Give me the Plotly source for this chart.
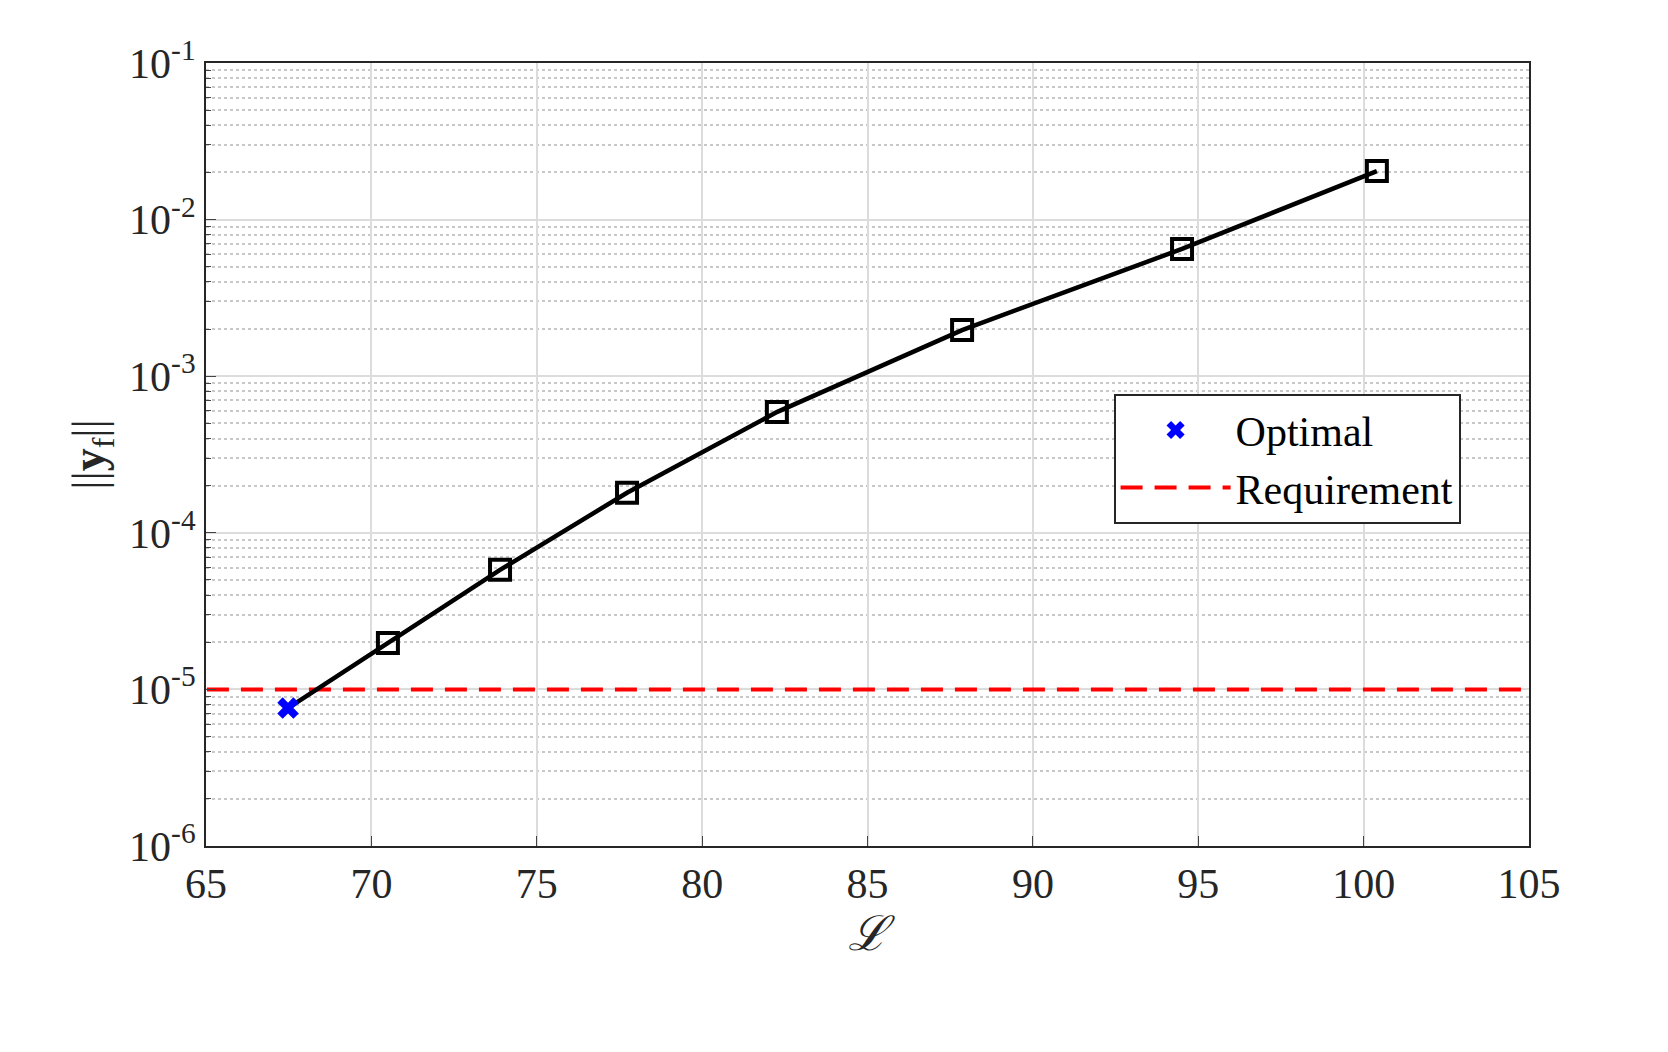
import plotly.graph_objects as go

L = [67.48, 70.50, 73.89, 77.73, 82.26, 87.86, 94.51, 100.40]
yf = [7.6e-6, 1.98e-5, 5.8e-5, 1.8e-4, 5.9e-4, 1.97e-3, 6.5e-3, 2.04e-2]
requirement = 1e-5
x_ticks = [65, 70, 75, 80, 85, 90, 95, 100, 105]
y_exps = [-6, -5, -4, -3, -2, -1]

font = "Liberation Serif"
fig = go.Figure()

fig.add_trace(go.Scatter(x=[64, 106], y=[requirement, requirement], mode="lines",
                         line=dict(color="#ff0000", width=4, dash="22px,12px"),
                         name="Requirement", showlegend=True, legendrank=2))
fig.add_trace(go.Scatter(x=L, y=yf, mode="lines", line=dict(color="black", width=4.5),
                         showlegend=False))
fig.add_trace(go.Scatter(x=L[1:], y=yf[1:], mode="markers",
                         marker=dict(symbol="square-open", size=20, color="black",
                                     line=dict(width=4, color="black")),
                         showlegend=False))
fig.add_trace(go.Scatter(x=L[:1], y=yf[:1], mode="markers",
                         marker=dict(symbol="x", size=19, color="#0000ff",
                                     line=dict(width=0)),
                         name="Optimal", legendrank=1))

fig.update_layout(
    width=1668, height=1052, paper_bgcolor="white", plot_bgcolor="white",
    margin=dict(l=198, r=147, t=55, b=214),
    font=dict(family=font, size=42, color="#262626"),
    legend=dict(x=0.686, y=0.577, xanchor="left", yanchor="top",
                bgcolor="white", bordercolor="#262626", borderwidth=2,
                font=dict(size=42, color="black"), itemwidth=110),
)
fig.update_xaxes(range=[65, 105], tickvals=x_ticks, showline=True, mirror=True,
                 linecolor="#262626", linewidth=2, ticks="inside", ticklen=10,
                 gridcolor="#dcdcdc", gridwidth=2, zeroline=False,
                 title=dict(text="<i>ℒ</i>", font=dict(size=48), standoff=8))
fig.update_yaxes(type="log", range=[-6, -1], tickvals=[10 ** e for e in y_exps],
                 ticktext=[f"10<sup>{e}</sup>" for e in y_exps],
                 showline=True, mirror=True, linecolor="#262626", linewidth=2,
                 ticks="inside", ticklen=10, gridcolor="#dcdcdc", gridwidth=2,
                 minor=dict(showgrid=True, gridcolor="#c8c8c8", griddash="dot",
                            gridwidth=1.5, ticks="inside", ticklen=5, dtick="D1"),
                 title=dict(text="||<b>y</b><sub>f</sub>||", font=dict(size=46), standoff=10))

fig.write_html("out.html")
